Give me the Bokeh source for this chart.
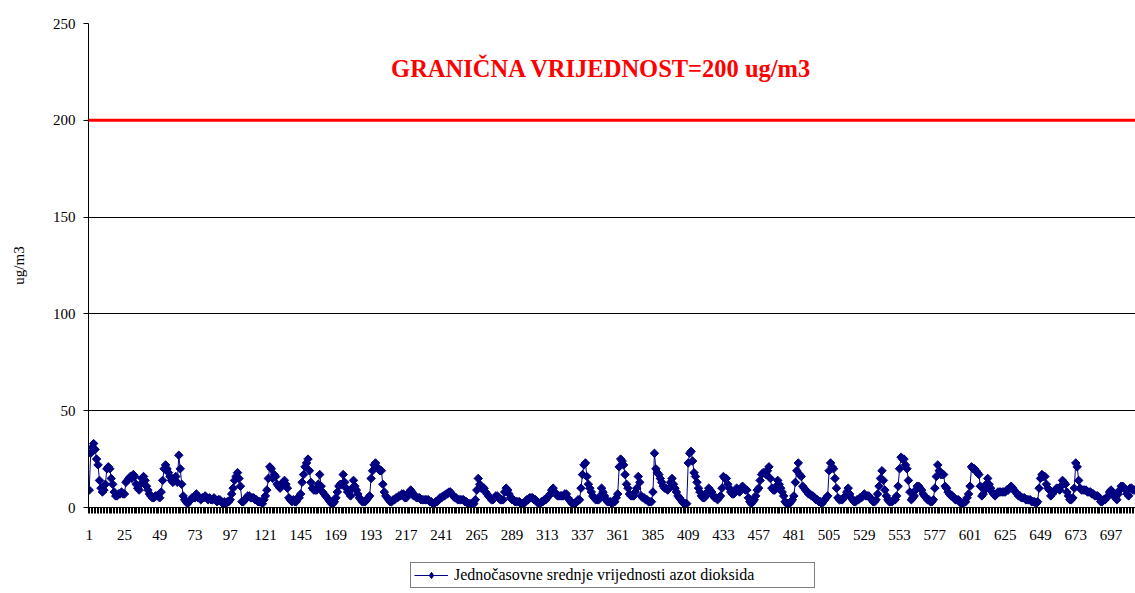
from bokeh.plotting import figure
from bokeh.layouts import column
from bokeh.models import Range1d, FixedTicker, Span, Label, Legend, LegendItem
from bokeh.embed import file_html
from bokeh.resources import INLINE

# hourly NO2 values (ug/m3), one row per day
values = [
    9, 28, 31, 33, 30, 25, 22, 14, 10, 8, 9, 12, 20, 21, 20, 15, 12, 8, 6, 6, 7, 7, 8, 7,
    7, 13, 14, 15, 16, 15, 17, 16, 12, 10, 9, 12, 15, 16, 14, 11, 9, 7, 6, 5, 5, 6, 6, 6,
    5, 8, 14, 20, 22, 20, 18, 16, 14, 13, 14, 16, 13, 27, 20, 12, 6, 4, 3, 2, 3, 4, 5, 5,
    5, 7, 5, 5, 4, 5, 5, 6, 5, 4, 5, 4, 4, 5, 4, 3, 4, 4, 3, 2, 3, 2, 3, 3,
    4, 7, 10, 14, 16, 18, 15, 11, 3, 3, 4, 5, 6, 6, 5, 5, 5, 4, 4, 3, 3, 3, 2, 4,
    6, 9, 15, 21, 20, 15, 17, 16, 12, 11, 10, 11, 13, 14, 12, 10, 5, 4, 3, 4, 3, 3, 5, 5,
    7, 13, 17, 21, 23, 25, 19, 13, 10, 9, 9, 9, 12, 17, 11, 8, 7, 6, 5, 4, 3, 2, 2, 3,
    5, 8, 11, 12, 12, 17, 13, 10, 8, 8, 6, 10, 14, 11, 9, 7, 5, 4, 3, 3, 3, 4, 5, 6,
    15, 19, 22, 23, 21, 20, 19, 19, 12, 8, 6, 5, 4, 3, 3, 4, 4, 5, 5, 6, 6, 7, 7, 5,
    5, 7, 8, 9, 8, 6, 6, 5, 5, 5, 4, 4, 4, 4, 4, 4, 3, 3, 2, 2, 3, 3, 4, 5,
    5, 6, 6, 7, 7, 8, 8, 7, 6, 5, 5, 4, 4, 4, 4, 4, 3, 3, 2, 2, 2, 2, 2, 4,
    9, 15, 12, 10, 10, 10, 8, 7, 6, 5, 4, 4, 5, 6, 6, 5, 4, 4, 4, 8, 10, 9, 7, 5,
    4, 4, 3, 3, 3, 3, 2, 2, 2, 3, 4, 4, 5, 5, 5, 4, 4, 3, 2, 2, 3, 3, 4, 4,
    5, 6, 7, 9, 10, 8, 7, 6, 6, 6, 6, 6, 7, 7, 5, 4, 3, 2, 2, 2, 3, 4, 4, 10,
    17, 22, 23, 16, 12, 10, 8, 6, 5, 4, 4, 4, 6, 10, 8, 6, 4, 3, 3, 3, 2, 3, 3, 5,
    7, 21, 25, 24, 22, 17, 12, 10, 7, 6, 6, 6, 8, 10, 16, 13, 6, 5, 5, 4, 4, 3, 3, 3,
    8, 28, 20, 18, 17, 15, 13, 11, 10, 10, 9, 10, 13, 15, 12, 10, 8, 6, 5, 4, 3, 2, 2, 2,
    23, 28, 29, 24, 18, 16, 13, 10, 8, 6, 5, 5, 6, 8, 10, 9, 8, 6, 5, 5, 4, 5, 6, 10,
    16, 15, 15, 12, 10, 8, 7, 7, 8, 10, 9, 8, 9, 11, 10, 9, 9, 5, 3, 2, 3, 4, 6, 9,
    10, 14, 17, 18, 18, 17, 19, 21, 15, 10, 9, 9, 11, 14, 12, 10, 8, 6, 3, 2, 2, 2, 3, 4,
    6, 13, 19, 23, 17, 16, 11, 10, 9, 8, 7, 7, 6, 6, 5, 4, 4, 3, 3, 2, 3, 4, 5, 6,
    19, 23, 21, 20, 15, 10, 5, 4, 4, 4, 5, 6, 8, 10, 7, 5, 4, 3, 3, 4, 4, 5, 5, 6,
    7, 6, 6, 6, 5, 4, 3, 3, 4, 7, 11, 15, 19, 14, 9, 6, 4, 3, 3, 3, 4, 4, 6, 11,
    20, 26, 25, 25, 22, 20, 14, 8, 4, 5, 6, 9, 11, 11, 10, 9, 7, 6, 5, 4, 4, 3, 3, 4,
    10, 16, 22, 19, 17, 17, 17, 11, 10, 8, 7, 6, 6, 5, 4, 4, 4, 3, 2, 2, 3, 3, 5, 7,
    11, 21, 20, 20, 19, 18, 17, 11, 6, 7, 9, 12, 15, 12, 10, 8, 7, 6, 7, 8, 8, 8, 8, 8,
    8, 9, 9, 10, 11, 10, 9, 8, 7, 6, 6, 5, 5, 5, 4, 4, 4, 4, 3, 3, 3, 2, 3, 10,
    15, 17, 16, 16, 12, 10, 9, 6, 7, 8, 9, 10, 10, 9, 11, 14, 13, 12, 8, 6, 4, 4, 5, 10,
    23, 21, 14, 10, 9, 9, 9, 9, 8, 8, 8, 7, 7, 6, 6, 6, 5, 3, 3, 4, 4, 5, 6, 8,
    9, 8, 7, 5, 4, 7, 9, 11, 11, 10, 9, 7, 6, 10, 10, 9, 9,
]
hours = list(range(1, len(values) + 1))
x_tick_labels = list(range(1, 698, 24))
y_ticks = [0, 50, 100, 150, 200, 250]
limit_value = 200
limit_text = "GRANIČNA VRIJEDNOST=200 ug/m3"
series_name = "Jednočasovne srednje vrijednosti azot dioksida"
y_title = "ug/m3"

SERIF = "Liberation Serif"
NAVY = "#000080"

p = figure(width=1135, height=560, output_backend="svg", toolbar_location=None,
           x_range=Range1d(0.5, 713.7), y_range=Range1d(0, 250),
           min_border_left=88, min_border_right=0, min_border_top=23,
           min_border_bottom=53)
p.outline_line_color = None
p.background_fill_color = "white"
p.border_fill_color = "white"

# x axis: category boundaries as small ticks, labels every 24 hours
boundaries = [h - 0.5 for h in hours] + [hours[-1] + 0.5]
p.xaxis.ticker = FixedTicker(ticks=x_tick_labels, minor_ticks=boundaries)
p.xaxis.axis_line_color = "black"
p.xaxis.major_tick_line_color = None
p.xaxis.major_tick_out = 0
p.xaxis.major_tick_in = 0
p.xaxis.minor_tick_line_color = "black"
p.xaxis.minor_tick_line_width = 1
p.xaxis.minor_tick_out = 6
p.xaxis.minor_tick_in = 0
p.xaxis.major_label_standoff = 16
p.xaxis.major_label_text_font = SERIF
p.xaxis.major_label_text_font_size = "15px"
p.xaxis.major_label_text_color = "black"

p.yaxis.ticker = FixedTicker(ticks=y_ticks)
p.yaxis.axis_line_color = "black"
p.yaxis.major_tick_line_color = "black"
p.yaxis.major_tick_out = 5
p.yaxis.major_tick_in = 0
p.yaxis.minor_tick_line_color = None
p.yaxis.major_label_standoff = 8
p.yaxis.major_label_text_font = SERIF
p.yaxis.major_label_text_font_size = "15px"
p.yaxis.major_label_text_color = "black"
p.yaxis.axis_label = y_title
p.yaxis.axis_label_text_font = SERIF
p.yaxis.axis_label_text_font_style = "normal"
p.yaxis.axis_label_text_font_size = "15px"
p.yaxis.axis_label_text_color = "black"
p.yaxis.axis_label_standoff = 23

p.xgrid.grid_line_color = None
p.ygrid.ticker = FixedTicker(ticks=y_ticks)
p.ygrid.grid_line_color = "black"
p.ygrid.grid_line_width = 1

p.add_layout(Span(location=limit_value, dimension="width",
                  line_color="#ff0000", line_width=3))
p.add_layout(Label(x=350, y=227, text=limit_text, text_align="center",
                   text_baseline="middle", text_color="#ff0000",
                   text_font=SERIF, text_font_style="bold",
                   text_font_size="24.5px"))

p.line(hours, values, line_color=NAVY, line_width=1)
p.scatter(hours, values, marker="square", angle=0.785398, size=6,
          fill_color=NAVY, line_color=NAVY)

# legend strip below the chart: same series, drawn out of view, only its key shows
q = figure(width=1135, height=33, output_backend="svg", toolbar_location=None,
           x_range=Range1d(-3, -2), y_range=Range1d(-3, -2),
           x_axis_location=None, y_axis_location=None,
           min_border_left=0, min_border_right=0, min_border_top=0,
           min_border_bottom=0)
q.outline_line_color = None
q.xgrid.visible = False
q.ygrid.visible = False
q.background_fill_color = "white"
q.border_fill_color = "white"
ln_key = q.line(hours, values, line_color=NAVY, line_width=1)
sc_key = q.scatter(hours, values, marker="diamond", size=9,
                   fill_color=NAVY, line_color=NAVY)

legend = Legend(items=[LegendItem(label=series_name, renderers=[ln_key, sc_key])],
                location=(322, 5), orientation="vertical",
                padding=3, spacing=0, margin=0,
                glyph_width=34, glyph_height=16, label_standoff=6,
                label_width=357, label_height=16,
                label_text_font=SERIF, label_text_font_size="16px",
                label_text_color="black",
                border_line_color="black", border_line_width=1,
                background_fill_color="white", background_fill_alpha=1)
q.add_layout(legend, "center")

open("out.html", "w").write(file_html(column(p, q, spacing=0), INLINE))
